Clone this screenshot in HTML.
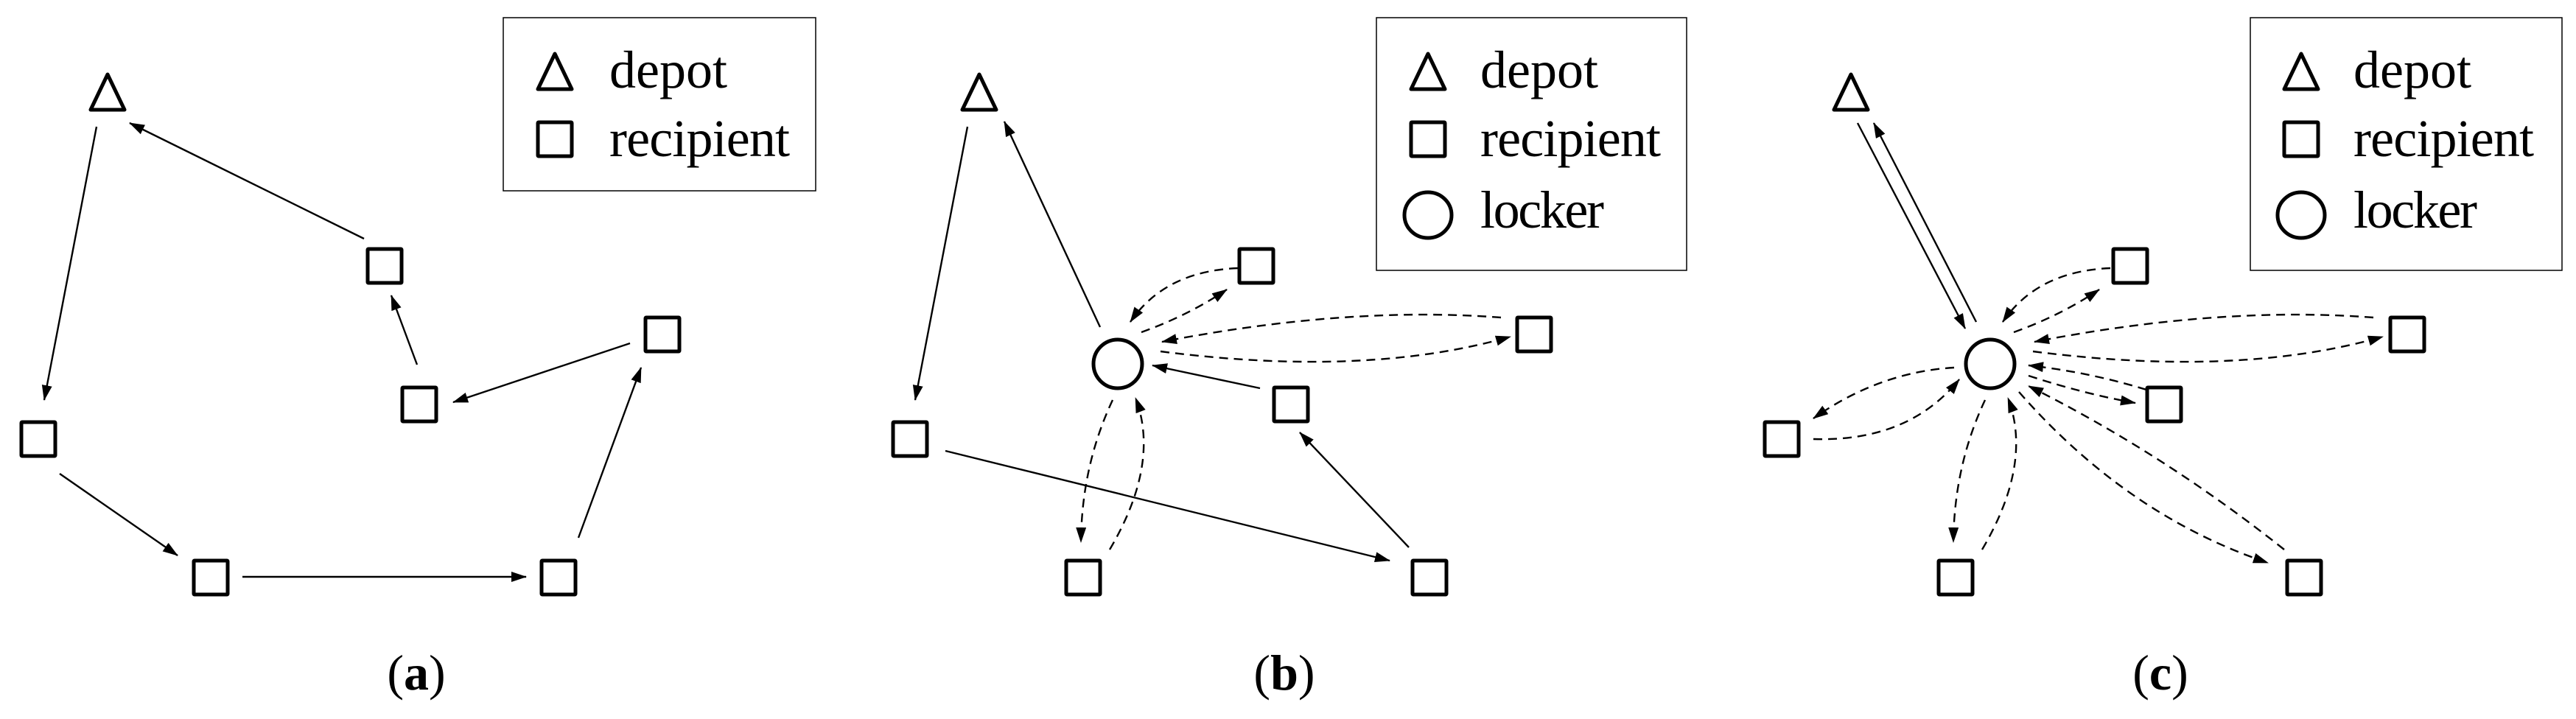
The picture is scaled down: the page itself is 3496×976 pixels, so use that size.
<!DOCTYPE html>
<html><head><meta charset="utf-8"><style>
html,body{margin:0;padding:0;background:#fff;}
svg{display:block;}
text{font-family:"Liberation Serif",serif;fill:#000;}
</style></head><body>
<svg width="3496" height="976" viewBox="0 0 3496 976" xmlns="http://www.w3.org/2000/svg">
<defs>
<marker id="ah" markerWidth="22" markerHeight="16" refX="20" refY="7" orient="auto" markerUnits="userSpaceOnUse">
<path d="M0,0 L21,7 L0,14 Z" fill="#000"/>
</marker>
<g id="sq"><rect x="-23" y="-23" width="46" height="46" fill="#fff" stroke="#000" stroke-width="5" rx="1"/></g>
<g id="tri"><path d="M0,-24 L-23,24 L23,24 Z" fill="#fff" stroke="#000" stroke-width="5" stroke-linejoin="round"/></g>
<g id="cir"><circle r="33" fill="#fff" stroke="#000" stroke-width="5"/></g>
</defs>

<g stroke="#000" stroke-width="2.4" fill="none" marker-end="url(#ah)">
<line x1="131" y1="172" x2="60" y2="543"/>
<line x1="494" y1="324" x2="176" y2="167"/>
<line x1="566" y1="495" x2="531" y2="401"/>
<line x1="855" y1="466" x2="615" y2="546"/>
<line x1="81" y1="643" x2="241" y2="754"/>
<line x1="329" y1="783" x2="714" y2="783"/>
<line x1="785" y1="730" x2="870" y2="499"/>
<line x1="1313" y1="172" x2="1242" y2="543"/>
<line x1="1493" y1="444" x2="1363" y2="165"/>
<line x1="1710" y1="527" x2="1564" y2="496"/>
<line x1="1912" y1="743" x2="1764" y2="587"/>
<line x1="1283" y1="612" x2="1886" y2="761"/>
<line x1="2521" y1="167" x2="2667" y2="446"/>
<line x1="2682" y1="437" x2="2543" y2="167"/>
</g>

<g stroke="#000" stroke-width="2.4" fill="none" stroke-dasharray="12,8" marker-end="url(#ah)">
<path d="M1680,364 Q1581,368 1534,437"/>
<path d="M1549,451 Q1613,428 1665,393"/>
<path d="M2037,431 Q1829,415 1577,464"/>
<path d="M1575,477 Q1854,513 2050,457"/>
<path d="M1510,543 Q1468,632 1467,736"/>
<path d="M1506,746 Q1575,629 1541,540"/>
<path d="M2864,364 Q2765,368 2718,437"/>
<path d="M2733,451 Q2797,428 2849,393"/>
<path d="M3221,431 Q3013,415 2761,464"/>
<path d="M2759,477 Q3038,513 3234,457"/>
<path d="M2694,543 Q2652,632 2651,736"/>
<path d="M2690,746 Q2759,629 2725,540"/>
<path d="M2753,510 Q2830,535 2898,547"/>
<path d="M2913,529 Q2835,505 2753,496"/>
<path d="M2652,499 Q2550,505 2461,568"/>
<path d="M2461,596 Q2590,600 2659,515"/>
<path d="M2740,532 Q2887,700 3078,764"/>
<path d="M3100,746 Q2935,615 2753,524"/>
</g>

<use href="#tri" x="146" y="125"/>
<use href="#sq" x="522" y="361"/>
<use href="#sq" x="899" y="454"/>
<use href="#sq" x="569" y="549"/>
<use href="#sq" x="52" y="596"/>
<use href="#sq" x="286" y="784"/>
<use href="#sq" x="758" y="784"/>
<use href="#tri" x="1329" y="125"/>
<use href="#cir" x="1517" y="494"/>
<use href="#sq" x="1705" y="361"/>
<use href="#sq" x="2082" y="454"/>
<use href="#sq" x="1752" y="549"/>
<use href="#sq" x="1235" y="596"/>
<use href="#sq" x="1470" y="784"/>
<use href="#sq" x="1940" y="784"/>
<use href="#tri" x="2512" y="125"/>
<use href="#cir" x="2701" y="494"/>
<use href="#sq" x="2891" y="361"/>
<use href="#sq" x="3267" y="454"/>
<use href="#sq" x="2937" y="549"/>
<use href="#sq" x="2418" y="596"/>
<use href="#sq" x="2654" y="784"/>
<use href="#sq" x="3127" y="784"/>

<rect x="683" y="24" width="424" height="235" fill="none" stroke="#000" stroke-width="1.5"/>
<use href="#tri" x="753" y="97"/>
<use href="#sq" x="753" y="189"/>
<text x="827" y="119" font-size="72" textLength="160">depot</text>
<text x="827" y="212" font-size="72" textLength="245">recipient</text>

<rect x="1868" y="24" width="421" height="343" fill="none" stroke="#000" stroke-width="1.5"/>
<use href="#tri" x="1938" y="97"/>
<use href="#sq" x="1938" y="189"/>
<ellipse cx="1938" cy="292" rx="32" ry="31" fill="#fff" stroke="#000" stroke-width="5"/>
<text x="2009" y="119" font-size="72" textLength="160">depot</text>
<text x="2009" y="212" font-size="72" textLength="245">recipient</text>
<text x="2009" y="309" font-size="72" textLength="168">locker</text>

<rect x="3054" y="24" width="423" height="343" fill="none" stroke="#000" stroke-width="1.5"/>
<use href="#tri" x="3123" y="97"/>
<use href="#sq" x="3123" y="189"/>
<ellipse cx="3123" cy="292" rx="32" ry="31" fill="#fff" stroke="#000" stroke-width="5"/>
<text x="3194" y="119" font-size="72" textLength="160">depot</text>
<text x="3194" y="212" font-size="72" textLength="245">recipient</text>
<text x="3194" y="309" font-size="72" textLength="168">locker</text>

<text x="565" y="936" font-size="68" text-anchor="middle"><tspan>(</tspan><tspan font-weight="bold">a</tspan><tspan>)</tspan></text>
<text x="1743" y="936" font-size="68" text-anchor="middle"><tspan>(</tspan><tspan font-weight="bold">b</tspan><tspan>)</tspan></text>
<text x="2932" y="936" font-size="68" text-anchor="middle"><tspan>(</tspan><tspan font-weight="bold">c</tspan><tspan>)</tspan></text>
</svg>
</body></html>
